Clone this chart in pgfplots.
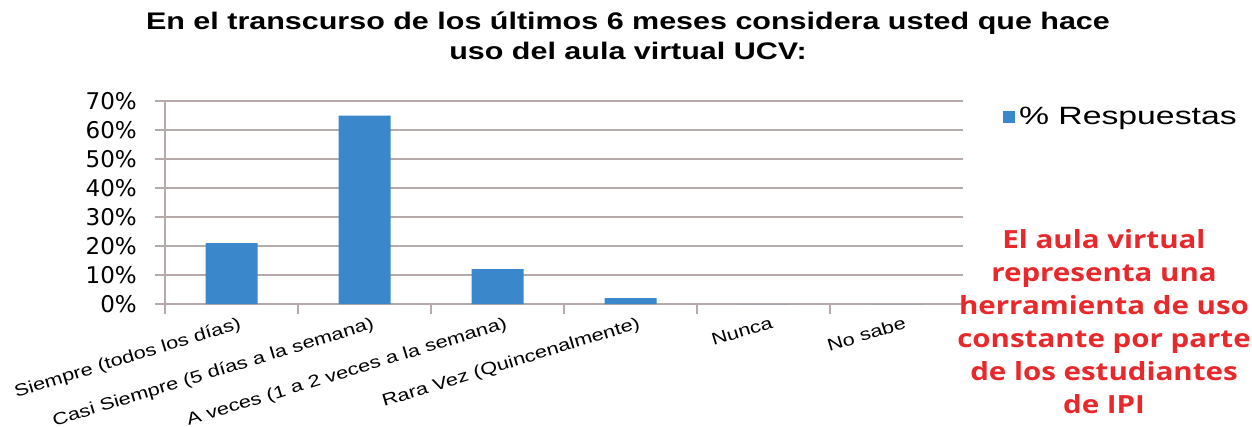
\documentclass[border=0pt]{standalone}
\usepackage{fontspec}
\usepackage{pgfplots}
\pgfplotsset{compat=1.18}
\setmainfont{Liberation Sans}
\newfontfamily\titlefont{Liberation Sans}[FakeStretch=1.27]
\newfontfamily\labelfont{Liberation Sans}[FakeStretch=1.28]
\newfontfamily\legfont{Liberation Sans}[FakeStretch=1.35]
\newfontfamily\tickfont{DejaVu Sans}
\newfontfamily\notefont{Open Sans}[FakeStretch=1.18]
\definecolor{barblue}{RGB}{58,135,203}
\definecolor{gridc}{RGB}{182,170,170}
\definecolor{notered}{RGB}{232,40,43}

\begin{document}
\begin{tikzpicture}
\useasboundingbox (0,0) rectangle (1252pt,-427pt);

% titulo
\node[anchor=north, align=center, inner sep=0pt,
      font=\titlefont\bfseries\fontsize{24}{30}\selectfont]
  at (628pt,-12pt) {En el transcurso de los últimos 6 meses considera usted que hace\\uso del aula virtual UCV:};

\begin{axis}[
    at={(165pt,-304pt)}, anchor=south west,
    scale only axis, width=798pt, height=203pt,
    ymin=0, ymax=70, xmin=-0.5, xmax=5.5,
    ybar, bar width=52pt,
    axis lines*=left,
    axis line style={gridc, line width=1.2pt},
    ytick={0,10,...,70},
    yticklabels={0\%,10\%,20\%,30\%,40\%,50\%,60\%,70\%},
    ymajorgrids,
    grid style={gridc, line width=1.2pt},
    tick style={gridc, line width=1.2pt},
    tick align=outside,
    major tick length=10pt,
    xtick={-0.5,0.5,...,5.5},
    x tick label as interval,
    xticklabels={Siempre (todos los días), Casi Siempre (5 días a la semana), A veces (1 a 2 veces a la semana), Rara Vez (Quincenalmente), Nunca, No sabe},
    xticklabel style={font=\labelfont\fontsize{17}{20}\selectfont, rotate=17, anchor=north east, inner sep=0pt, yshift=-4pt, xshift=6pt},
    yticklabel style={font=\tickfont\fontsize{23}{25}\selectfont, inner sep=0pt, xshift=-18pt},
    legend style={at={(1.050,0.921)}, anchor=west, draw=none, fill=none, inner sep=0pt,
                  font=\legfont\fontsize{25}{28}\selectfont},
    legend image code/.code={\fill[barblue] (0pt,-6pt) rectangle (12pt,6pt); \path (14pt,0pt);},
]
\addplot[fill=barblue, draw=none] coordinates {(0,21) (1,65) (2,12) (3,2) (4,0) (5,0)};
\addlegendentry{\% Respuestas}
\end{axis}

% nota
\node[anchor=north, align=center, inner sep=0pt, text=notered,
      font=\notefont\bfseries\fontsize{25}{33}\selectfont]
  at (1104pt,-229pt) {El aula virtual\\representa una\\herramienta de uso\\constante por parte\\de los estudiantes\\de IPI};
\end{tikzpicture}
\end{document}
